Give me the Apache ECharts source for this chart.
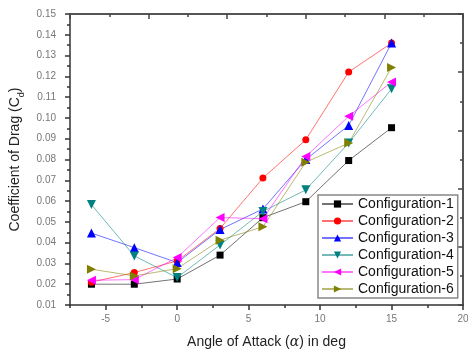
<!DOCTYPE html>
<html>
<head>
<meta charset="utf-8">
<script src="https://cdn.jsdelivr.net/npm/echarts@6/dist/echarts.min.js"></script>
<style>
  html, body { margin: 0; padding: 0; background: #fff; }
  #chart { width: 468px; height: 354px; }
</style>
</head>
<body>
<div id="chart"></div>
<script>
// Angle of attack (deg)
const angles = [-6, -3, 0, 3, 6, 9, 12, 15];

// Drag coefficient per configuration
const config1 = [0.0200, 0.0200, 0.0225, 0.0340, 0.0520, 0.0597, 0.0795, 0.0953];
const config2 = [0.0210, 0.0256, 0.0312, 0.0468, 0.0711, 0.0895, 0.1221, 0.1360];
const config3 = [0.0446, 0.0376, 0.0304, 0.0463, 0.0562, 0.0800, 0.0964, 0.1360];
const config4 = [0.0583, 0.0336, 0.0232, 0.0389, 0.0550, 0.0654, 0.0879, 0.1140];
const config5 = [0.0219, 0.0222, 0.0328, 0.0521, 0.0515, 0.0814, 0.1008, 0.1173];
const config6 = [0.0272, 0.0240, 0.0275, 0.0412, 0.0476, 0.0787, 0.0879, 0.1243];

const seriesNames = ['Configuration-1', 'Configuration-2', 'Configuration-3',
                     'Configuration-4', 'Configuration-5', 'Configuration-6'];

// Labelled x positions
const xMajorTicks = [-5, 0, 5, 10, 15, 20];

const font = 'Liberation Sans, Arial, sans-serif';
const frameColor = '#333';

const styles = [
  { color: '#000000', symbol: 'rect', size: 7, rotate: 0 },
  { color: '#ff0000', symbol: 'circle', size: 7, rotate: 0 },
  { color: '#0000ff', symbol: 'triangle', size: 9, rotate: 0 },
  { color: '#008080', symbol: 'triangle', size: 9, rotate: 180 },
  { color: '#ff00ff', symbol: 'triangle', size: 9, rotate: 90 },
  { color: '#808000', symbol: 'triangle', size: 9, rotate: -90 }
];

const dataSets = [config1, config2, config3, config4, config5, config6];

const series = dataSets.map((vals, i) => ({
  name: seriesNames[i],
  type: 'line',
  xAxisIndex: 0,
  yAxisIndex: 0,
  data: angles.map((a, k) => [a, vals[k]]),
  symbol: styles[i].symbol,
  symbolSize: styles[i].size,
  symbolRotate: styles[i].rotate,
  itemStyle: { color: styles[i].color },
  lineStyle: { color: styles[i].color, width: 1, opacity: 0.55 },
  emphasis: { disabled: true },
  animation: false
}));

// Mirrored frame axis on the top / right: line plus inward ticks, no labels
function frameAxis(position) {
  return {
    type: 'value', position: position, min: 0, max: 10, interval: 2,
    axisLine: { show: true, onZero: false, lineStyle: { color: '#555', width: 2 } },
    axisTick: { show: true, inside: true, length: 5, lineStyle: { color: '#444', width: 1.5 } },
    minorTick: { show: true, splitNumber: 2, length: 3, lineStyle: { color: '#444', width: 1.5 } },
    axisLabel: { show: false },
    splitLine: { show: false }
  };
}

const chart = echarts.init(document.getElementById('chart'), null, { renderer: 'canvas' });

chart.setOption({
  backgroundColor: '#fff',
  animation: false,
  grid: { left: 70, right: 5, top: 14, bottom: 49, outerBoundsMode: 'none' },
  legend: {
    orient: 'vertical',
    left: 318,
    top: 195,
    padding: [2, 4, 2, 3],
    itemWidth: 31,
    itemHeight: 9,
    itemGap: 3,
    backgroundColor: '#fff',
    borderColor: '#888',
    borderWidth: 1.5,
    textStyle: { fontFamily: font, fontSize: 14, color: '#111', lineHeight: 14 },
    data: seriesNames
  },
  xAxis: [
    {
      type: 'value', position: 'bottom', min: -7.5, max: 20,
      name: '{n|Angle of Attack (}{a|α}{n|) in deg}',
      nameLocation: 'middle', nameGap: 30,
      nameTextStyle: {
        rich: {
          n: { fontFamily: font, fontSize: 14, color: '#222' },
          a: { fontFamily: 'DejaVu Serif, serif', fontStyle: 'italic', fontSize: 14, color: '#222' }
        }
      },
      axisLine: { show: true, onZero: false, lineStyle: { color: frameColor, width: 1.5 } },
      axisTick: { show: true, inside: false, length: 5, customValues: xMajorTicks, lineStyle: { color: frameColor, width: 1.5 } },
      axisLabel: { show: true, customValues: xMajorTicks, margin: 9, fontFamily: font, fontSize: 10, color: '#777' },
      splitLine: { show: false }
    },
    {
      // half-step ticks between the labelled ones
      type: 'value', position: 'bottom', min: -7.5, max: 20, interval: 2.5,
      axisLine: { show: false, onZero: false },
      axisTick: { show: true, inside: false, length: 3, lineStyle: { color: frameColor, width: 1.5 } },
      axisLabel: { show: false },
      splitLine: { show: false }
    },
    frameAxis('top')
  ],
  yAxis: [
    {
      type: 'value', position: 'left', min: 0.01, max: 0.15, interval: 0.01,
      name: '{n|Coefficient of Drag (C}{s|d}{n|)}',
      nameLocation: 'middle', nameGap: 44, nameRotate: 90,
      nameTextStyle: {
        rich: {
          n: { fontFamily: font, fontSize: 14, color: '#222', lineHeight: 20, verticalAlign: 'middle' },
          s: { fontFamily: font, fontSize: 9, color: '#222', lineHeight: 9, verticalAlign: 'bottom' }
        }
      },
      axisLine: { show: true, onZero: false, lineStyle: { color: frameColor, width: 1.5 } },
      axisTick: { show: true, inside: false, length: 5, lineStyle: { color: frameColor, width: 1.5 } },
      minorTick: { show: true, splitNumber: 2, length: 3, lineStyle: { color: frameColor, width: 1.5 } },
      axisLabel: {
        margin: 14, fontFamily: font, fontSize: 10, color: '#777',
        formatter: v => v.toFixed(2)
      },
      splitLine: { show: false }
    },
    frameAxis('right')
  ],
  series: series
});
</script>
</body>
</html>
